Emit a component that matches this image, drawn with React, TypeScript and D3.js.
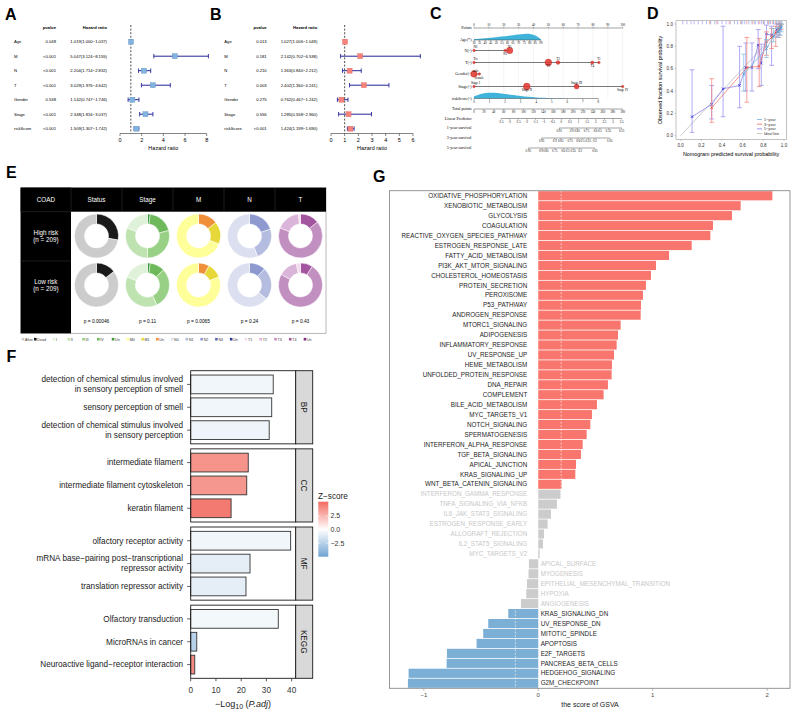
import React from "react";
import * as d3 from "d3";

const SANS = "'Liberation Sans', Arial, Helvetica, sans-serif";
const SERIF = "'Liberation Serif', 'Times New Roman', serif";

/* ---------------- A & B : forest plots ---------------- */
const forestVars = ["Age", "M", "N", "T", "Gender", "Stage", "riskScore"];
const uniPval = ["0.048", "<0.001", "<0.001", "<0.001", "0.538", "<0.001", "<0.001"];
const uniHR = [1.019, 5.047, 2.204, 3.029, 1.142, 2.348, 1.509];
const uniLow = [1.0, 3.124, 1.714, 1.976, 0.747, 1.816, 1.307];
const uniHigh = [1.037, 8.155, 2.832, 4.642, 1.746, 3.037, 1.742];
const uniTicks = [0, 2, 4, 6, 8];
const multiPval = ["0.013", "0.181", "0.210", "0.003", "0.275", "0.556", "<0.001"];
const multiHR = [1.027, 2.142, 1.363, 2.402, 0.762, 1.285, 1.424];
const multiLow = [1.006, 0.702, 0.84, 1.36, 0.467, 0.558, 1.199];
const multiHigh = [1.049, 6.538, 2.212, 4.241, 1.242, 2.96, 1.69];
const multiTicks = [0, 1, 2, 3, 4, 5, 6];

/* ---------------- C : nomogram ---------------- */
const nomoRows = ["Points", "Age(*)", "N(-)", "T(-)", "Gender(-)", "Stage(-)", "riskScore(-)", "Total points", "Linear Predictor", "1-year survival", "3-year survival", "5-year survival"];
const pointTicks = [0, 10, 20, 30, 40, 50, 60, 70, 80, 90, 100];
const ageTicks = [30, 35, 40, 45, 50, 55, 60, 65, 70, 75, 80, 85, 90];
const ageDensity = [0.14, 0.19, 0.26, 0.34, 0.43, 0.53, 0.63, 0.73, 0.83, 0.93, 0.98, 0.78, 0.12];
const ageMaxPoints = 45;
const nLevels = ["N0", "N3", "N1"];
const nPoints = [0, 21, 24];
const nSize = [1.3, 1.3, 3.2];
const nLabelSide = [-1, 1, -1];
const tLevels = ["Tis", "T3", "T2", "T4", "T1"];
const tPoints = [0, 50, 56.5, 79.5, 84];
const tSize = [1.3, 3.4, 1.9, 1.6, 1.3];
const tLabelSide = [-1, 1, -1, 1, -1];
const genderLevels = ["male", "female"];
const genderPoints = [0, 3.6];
const genderSize = [3.2, 1.3];
const genderLabelSide = [-1, 1];
const stageLevels = ["Stage I", "Stage II", "Stage III", "Stage IV"];
const stagePoints = [0, 35.5, 69, 100];
const stageSize = [1.3, 3.4, 2.5, 1.3];
const stageLabelSide = [-1, 1, -1, 1];
const riskTicks = [0, 1, 2, 3, 4, 5, 6, 7, 8];
const riskDensX = [0, 0.5, 1, 1.5, 2, 2.5, 3, 3.5, 4, 4.5, 5, 5.5, 6];
const riskDensity = [0.35, 0.88, 1.0, 0.92, 0.74, 0.56, 0.4, 0.28, 0.18, 0.1, 0.05, 0.02, 0];
const riskMaxPoints = 83.6;
const totalTicks = [0, 20, 40, 60, 80, 100, 120, 140, 160, 180, 200, 220, 240, 260, 280, 300];
const lpTicks = [-3.5, -3, -2.5, -2, -1.5, -1, -0.5, 0, 0.5, 1, 1.5, 2, 2.5, 3, 3.5];
const surv1Labels = ["0.95", "0.9", "0.85", "0.75", "0.6", "0.5", "0.35", "0.15"];
const surv1Total = [172, 197, 208, 227, 245, 254, 271, 298];
const surv3Labels = ["0.95", "0.9", "0.85", "0.75", "0.6", "0.5", "0.35", "0.2", "0.05"];
const surv3Total = [136.5, 163, 175, 194, 210, 219, 230.5, 244, 274];
const surv5Labels = ["0.95", "0.9", "0.85", "0.75", "0.6", "0.5", "0.35", "0.2", "0.05"];
const surv5Total = [109.6, 135, 145, 163, 180, 189, 200, 214, 244];

/* ---------------- D : calibration ---------------- */
const calTicks = [0, 0.2, 0.4, 0.6, 0.8, 1.0];
const cal1Pred = [0.61, 0.83, 0.9, 0.94, 0.96, 0.975];
const cal1Obs = [0.55, 0.78, 0.89, 0.93, 0.95, 0.97];
const cal1Lo = [0.4, 0.7, 0.84, 0.88, 0.9, 0.93];
const cal1Hi = [0.73, 0.86, 0.96, 0.97, 0.99, 1.0];
const cal3Pred = [0.3, 0.64, 0.76, 0.83, 0.88, 0.92, 0.95, 0.97];
const cal3Obs = [0.25, 0.61, 0.62, 0.84, 0.88, 0.92, 0.96, 0.99];
const cal3Lo = [0.12, 0.3, 0.44, 0.72, 0.78, 0.8, 0.88, 0.95];
const cal3Hi = [0.51, 0.88, 0.87, 0.93, 0.96, 0.98, 1.0, 1.0];
const cal5Pred = [0.11, 0.3, 0.41, 0.57, 0.63, 0.69, 0.75, 0.78, 0.83, 0.88, 0.93, 0.96];
const cal5Obs = [0.17, 0.28, 0.42, 0.45, 0.61, 0.61, 0.81, 0.65, 0.91, 0.9, 0.95, 0.97];
const cal5Lo = [0.03, 0.15, 0.17, 0.25, 0.4, 0.4, 0.6, 0.45, 0.8, 0.63, 0.88, 0.9];
const cal5Hi = [0.59, 0.45, 0.98, 0.8, 0.83, 0.83, 0.95, 0.82, 0.99, 0.98, 1.0, 1.0];
const rug5 = [0.02, 0.06, 0.1, 0.13, 0.17, 0.21, 0.25, 0.29, 0.33, 0.36, 0.4, 0.44, 0.48, 0.52, 0.55, 0.59, 0.62, 0.66, 0.69, 0.72, 0.75, 0.78, 0.81, 0.84, 0.87, 0.9, 0.93, 0.96];
const rug3 = [0.28, 0.35, 0.47, 0.58, 0.64, 0.7, 0.76, 0.8, 0.85, 0.89, 0.92, 0.95, 0.97];
const rug1 = [0.6, 0.72, 0.8, 0.86, 0.9, 0.93, 0.95, 0.97, 0.98];

/* ---------------- E : donut table ---------------- */
const eCols = ["Status", "Stage", "M", "N", "T"];
const eRows = [["High risk", "(n = 209)"], ["Low risk", "(n = 209)"]];
const ePvals = ["p = 0.00046", "p = 0.11", "p = 0.0065", "p = 0.24", "p = 0.43"];
const statusColors = ["#1a1a1a", "#cccccc"];
const statusHigh = [0.28, 0.72];
const statusLow = [0.145, 0.855];
const stageColors = ["#3a9a3a", "#6db95c", "#98d186", "#bfe2b1", "#e0f1da"];
const stageHigh = [0.02, 0.19, 0.29, 0.31, 0.19];
const stageLow = [0.02, 0.11, 0.3, 0.38, 0.19];
const mColors = ["#ef8f3a", "#e5d838", "#ffff99"];
const mHigh = [0.145, 0.165, 0.69];
const mLow = [0.08, 0.11, 0.81];
const nColors = ["#8d99cf", "#b4bde0", "#dcdff0"];
const nHigh = [0.2, 0.24, 0.56];
const nLow = [0.12, 0.24, 0.64];
const tColors = ["#a3559f", "#c28fc1", "#dbb4d9", "#f3dcf0"];
const tHigh = [0.14, 0.67, 0.175, 0.015];
const tLow = [0.09, 0.74, 0.14, 0.03];
const eLegendLabels = ["Alive", "Dead", "I", "II", "III", "IV", "Un", "M0", "M1", "Un", "N0", "N1", "N2", "N3", "Un", "T1", "T2", "T3", "T4", "Un"];
const eLegendColors = ["#cccccc", "#1a1a1a", "#e0f1da", "#bfe2b1", "#98d186", "#6db95c", "#3a9a3a", "#ffff99", "#e5d838", "#ef8f3a", "#dcdff0", "#b4bde0", "#8d99cf", "#5a67b5", "#2a3a9a", "#f3dcf0", "#dbb4d9", "#c28fc1", "#a3559f", "#7b2a7b"];

/* ---------------- F : GO / KEGG bars ---------------- */
const goCats = ["BP", "CC", "MF", "KEGG"];
const goTerms = [
  [["detection of chemical stimulus involved", "in sensory perception of smell"], ["sensory perception of smell"], ["detection of chemical stimulus involved", "in sensory perception"]],
  [["intermediate filament"], ["intermediate filament cytoskeleton"], ["keratin filament"]],
  [["olfactory receptor activity"], ["mRNA base\u2212pairing post\u2212transcriptional", "repressor activity"], ["translation repressor activity"]],
  [["Olfactory transduction"], ["MicroRNAs in cancer"], ["Neuroactive ligand\u2212receptor interaction"]],
];
const goValues = [[32.7, 32.1, 31.1], [22.8, 22.2, 16.0], [39.6, 23.5, 21.9], [34.7, 2.4, 1.6]];
const goZ = [[-0.5, -0.5, -0.6], [3.7, 3.6, 4.6], [-0.5, -0.9, -0.9], [-0.4, -2.5, 4.0]];
const goTicks = [0, 10, 20, 30, 40];
const zLegendTicks = [2.5, 0, -2.5];

/* ---------------- G : GSVA ---------------- */
const gTerms = ["OXIDATIVE_PHOSPHORYLATION", "XENOBIOTIC_METABOLISM", "GLYCOLYSIS", "COAGULATION", "REACTIVE_OXYGEN_SPECIES_PATHWAY", "ESTROGEN_RESPONSE_LATE", "FATTY_ACID_METABOLISM", "PI3K_AKT_MTOR_SIGNALING", "CHOLESTEROL_HOMEOSTASIS", "PROTEIN_SECRETION", "PEROXISOME", "P53_PATHWAY", "ANDROGEN_RESPONSE", "MTORC1_SIGNALING", "ADIPOGENESIS", "INFLAMMATORY_RESPONSE", "UV_RESPONSE_UP", "HEME_METABOLISM", "UNFOLDED_PROTEIN_RESPONSE", "DNA_REPAIR", "COMPLEMENT", "BILE_ACID_METABOLISM", "MYC_TARGETS_V1", "NOTCH_SIGNALING", "SPERMATOGENESIS", "INTERFERON_ALPHA_RESPONSE", "TGF_BETA_SIGNALING", "APICAL_JUNCTION", "KRAS_SIGNALING_UP", "WNT_BETA_CATENIN_SIGNALING", "INTERFERON_GAMMA_RESPONSE", "TNFA_SIGNALING_VIA_NFKB", "IL6_JAK_STAT3_SIGNALING", "ESTROGEN_RESPONSE_EARLY", "ALLOGRAFT_REJECTION", "IL2_STAT5_SIGNALING", "MYC_TARGETS_V2", "APICAL_SURFACE", "MYOGENESIS", "EPITHELIAL_MESENCHYMAL_TRANSITION", "HYPOXIA", "ANGIOGENESIS", "KRAS_SIGNALING_DN", "UV_RESPONSE_DN", "MITOTIC_SPINDLE", "APOPTOSIS", "E2F_TARGETS", "PANCREAS_BETA_CELLS", "HEDGEHOG_SIGNALING", "G2M_CHECKPOINT"];
const gScores = [2.046, 1.769, 1.693, 1.527, 1.504, 1.341, 1.143, 1.029, 0.985, 0.941, 0.915, 0.898, 0.895, 0.72, 0.697, 0.685, 0.662, 0.644, 0.641, 0.609, 0.571, 0.513, 0.469, 0.455, 0.423, 0.388, 0.373, 0.33, 0.324, 0.204, 0.195, 0.163, 0.111, 0.082, 0.05, 0.041, 0.012, -0.082, -0.085, -0.099, -0.105, -0.151, -0.262, -0.437, -0.481, -0.539, -0.798, -0.801, -1.133, -1.139];
const gTicks = [-1, 0, 1, 2];
const gThreshold = 0.2;

/* ================= components ================= */
const f3 = (v: number) => v.toFixed(3);

function Forest({ c }: { c: any }) {
  const y = d3.scalePoint<string>().domain(forestVars).range([41.7, 128.7]);
  const x = d3.scaleLinear().domain(c.domain).range(c.range);
  const axisY = 133.5;
  const [d0, d1] = c.domain;
  const fs = 4.2;
  return (
    <g>
      <text x={c.pX} y={28.5} fontSize={fs} fontWeight="bold" textAnchor="end">pvalue</text>
      <text x={c.hrX} y={28.5} fontSize={fs} fontWeight="bold" textAnchor="end">Hazard ratio</text>
      {forestVars.map((v, i) => {
        const yy = y(v)!;
        return (
          <g key={v}>
            <text x={c.labelX} y={yy + 1.5} fontSize={fs}>{v}</text>
            <text x={c.pX} y={yy + 1.5} fontSize={fs} textAnchor="end">{c.p[i]}</text>
            <text x={c.hrX} y={yy + 1.5} fontSize={fs} textAnchor="end">{`${f3(c.hr[i])}(${f3(c.lo[i])}\u2212${f3(c.hi[i])})`}</text>
          </g>
        );
      })}
      <line x1={x(1)} x2={x(1)} y1={25} y2={axisY} stroke="#222" strokeWidth={0.8} strokeDasharray="2,1.6" />
      {forestVars.map((v, i) => {
        const yy = y(v)!;
        return (
          <g key={v + "m"}>
            <line x1={x(c.lo[i])} x2={x(c.hi[i])} y1={yy} y2={yy} stroke="#24249a" strokeWidth={1} />
            <line x1={x(c.lo[i])} x2={x(c.lo[i])} y1={yy - 2.2} y2={yy + 2.2} stroke="#24249a" strokeWidth={0.9} />
            <line x1={x(c.hi[i])} x2={x(c.hi[i])} y1={yy - 2.2} y2={yy + 2.2} stroke="#24249a" strokeWidth={0.9} />
            <rect x={x(c.hr[i]) - 2.5} y={yy - 2.5} width={5} height={5} fill={c.fill} stroke={c.stroke} strokeWidth={0.4} />
          </g>
        );
      })}
      <line x1={x(d0)} x2={x(d1)} y1={axisY} y2={axisY} stroke="#333" strokeWidth={0.6} />
      {c.ticks.map((t: number) => (
        <g key={t}>
          <line x1={x(t)} x2={x(t)} y1={axisY} y2={axisY + 2.5} stroke="#333" strokeWidth={0.6} />
          <text x={x(t)} y={axisY + 8.5} fontSize={5.5} textAnchor="middle">{t}</text>
        </g>
      ))}
      <text x={(x(d0) + x(d1)) / 2} y={axisY + 16} fontSize={5.5} textAnchor="middle">Hazard ratio</text>
    </g>
  );
}

function NomoAxis({ scale, ticks, y, side, fmt }: any) {
  const r = [scale(ticks[0]), scale(ticks[ticks.length - 1])];
  return (
    <g>
      <line x1={r[0]} x2={r[1]} y1={y} y2={y} stroke="#444" strokeWidth={0.5} />
      {ticks.map((t: any, i: number) => (
        <g key={i}>
          <line x1={scale(t)} x2={scale(t)} y1={y} y2={y + side * 1.3} stroke="#444" strokeWidth={0.4} />
          <text x={scale(t)} y={side < 0 ? y - 1.8 : y + 4.3} fontSize={3.1} textAnchor="middle" fontFamily={SERIF}>{fmt ? fmt(t, i) : t}</text>
        </g>
      ))}
    </g>
  );
}

function NomoFactor({ pts, y, levels, points, sizes, sides }: any) {
  const xs = points.map((p: number) => pts(p));
  return (
    <g>
      <line x1={d3.min(xs)} x2={d3.max(xs)} y1={y} y2={y} stroke="#555" strokeWidth={0.8} />
      {levels.map((l: string, i: number) => (
        <g key={l}>
          <circle cx={xs[i]} cy={y} r={sizes[i]} fill="#e3342b" fillOpacity={0.85} stroke="#b51c14" strokeWidth={0.3} />
          <text x={xs[i] + (i === 0 ? 1.5 : 0)} y={sides[i] < 0 ? y - 2.3 : y + 4.8} fontSize={3.2} textAnchor="middle" fontFamily={SERIF}>{l}</text>
        </g>
      ))}
    </g>
  );
}

function Nomogram() {
  const pts = d3.scaleLinear().domain([0, 100]).range([474, 622.7]);
  const rowY = [28, 40, 50.5, 62.5, 74, 86.5, 98.5, 109, 118.5, 128, 138, 148];
  const age = d3.scaleLinear().domain([30, 90]).range([pts(0), pts(ageMaxPoints)]);
  const risk = d3.scaleLinear().domain([0, 8]).range([pts(0), pts(riskMaxPoints)]);
  const total = d3.scaleLinear().domain([0, 300]).range([pts(0), pts(100)]);
  const lp = d3.scaleLinear().domain([-3.5, 3.5]).range([501, 621.7]);
  const ageArea = d3.area<number>().x((_, i) => age(ageTicks[i])).y0(rowY[1]).y1((d) => rowY[1] - d * 6.5).curve(d3.curveBasis);
  const riskArea = d3.area<number>().x((_, i) => risk(riskDensX[i])).y0(rowY[6]).y1((d) => rowY[6] - d * 6).curve(d3.curveBasis);
  const survRows = [
    { labels: surv1Labels, tp: surv1Total, y: rowY[9] },
    { labels: surv3Labels, tp: surv3Total, y: rowY[10] },
    { labels: surv5Labels, tp: surv5Total, y: rowY[11] },
  ];
  return (
    <g fontFamily={SERIF}>
      {pointTicks.map((t) => (
        <line key={t} x1={pts(t)} x2={pts(t)} y1={rowY[0]} y2={rowY[6]} stroke="#e4e4e4" strokeWidth={0.4} />
      ))}
      {nomoRows.map((r, i) => (
        <text key={r} x={471.5} y={rowY[i] + 1.4} fontSize={4.1} textAnchor="end">{r}</text>
      ))}
      <NomoAxis scale={pts} ticks={pointTicks} y={rowY[0]} side={-1} />
      <path d={ageArea(ageDensity)!} fill="#3fb3d9" />
      <NomoAxis scale={age} ticks={ageTicks} y={rowY[1]} side={1} />
      <NomoFactor pts={pts} y={rowY[2]} levels={nLevels} points={nPoints} sizes={nSize} sides={nLabelSide} />
      <NomoFactor pts={pts} y={rowY[3]} levels={tLevels} points={tPoints} sizes={tSize} sides={tLabelSide} />
      <NomoFactor pts={pts} y={rowY[4]} levels={genderLevels} points={genderPoints} sizes={genderSize} sides={genderLabelSide} />
      <NomoFactor pts={pts} y={rowY[5]} levels={stageLevels} points={stagePoints} sizes={stageSize} sides={stageLabelSide} />
      <path d={riskArea(riskDensity)!} fill="#3fb3d9" />
      <NomoAxis scale={risk} ticks={riskTicks} y={rowY[6]} side={1} />
      <NomoAxis scale={total} ticks={totalTicks} y={rowY[7]} side={1} />
      <NomoAxis scale={lp} ticks={lpTicks} y={rowY[8]} side={1} />
      {survRows.map((s, k) => (
        <NomoAxis key={k} scale={(v: number) => total(s.tp[v])} ticks={s.tp.map((_, i) => i)} y={s.y} side={1} fmt={(_: any, i: number) => s.labels[i]} />
      ))}
    </g>
  );
}

function Calibration() {
  const x = d3.scaleLinear().domain([0, 1]).range([680.7, 784]);
  const y = d3.scaleLinear().domain([0, 1]).range([135.7, 24]);
  const series = [
    { name: "5\u2212year", color: "#8c86ee", mark: "#2b2bd6", pred: cal5Pred, obs: cal5Obs, lo: cal5Lo, hi: cal5Hi, rug: rug5 },
    { name: "3\u2212year", color: "#f37c72", mark: "#e04a3c", pred: cal3Pred, obs: cal3Obs, lo: cal3Lo, hi: cal3Hi, rug: rug3 },
    { name: "1\u2212year", color: "#7cbbe0", mark: "#3f8fcf", pred: cal1Pred, obs: cal1Obs, lo: cal1Lo, hi: cal1Hi, rug: rug1 },
  ];
  const line = d3.line<[number, number]>().x((d) => x(d[0])).y((d) => y(d[1]));
  const legend = [
    { name: "1\u2212year", color: "#7cbbe0" },
    { name: "3\u2212year", color: "#f37c72" },
    { name: "5\u2212year", color: "#8c86ee" },
    { name: "Ideal line", color: "#bdbdbd" },
  ];
  return (
    <g>
      <rect x={676} y={20.7} width={110.7} height={118.6} fill="none" stroke="#9a9a9a" strokeWidth={0.6} />
      <line x1={x(0)} y1={y(0)} x2={x(1)} y2={y(1)} stroke="#bdbdbd" strokeWidth={0.8} />
      {series.map((s) => (
        <g key={s.name}>
          {s.rug.map((r, i) => (
            <line key={i} x1={x(r)} x2={x(r)} y1={20.9} y2={24.3} stroke={s.color} strokeWidth={0.6} />
          ))}
          <path d={line(s.pred.map((p, i) => [p, s.obs[i]] as [number, number]))!} fill="none" stroke={s.color} strokeWidth={0.8} />
          {s.pred.map((p, i) => (
            <g key={i}>
              <line x1={x(p)} x2={x(p)} y1={y(s.lo[i])} y2={y(s.hi[i])} stroke={s.color} strokeWidth={0.7} />
              <line x1={x(p) - 2.4} x2={x(p) + 2.4} y1={y(s.lo[i])} y2={y(s.lo[i])} stroke={s.color} strokeWidth={0.7} />
              <line x1={x(p) - 2.4} x2={x(p) + 2.4} y1={y(s.hi[i])} y2={y(s.hi[i])} stroke={s.color} strokeWidth={0.7} />
              <path d={`M${x(p) - 1.2},${y(s.obs[i]) - 1.2}L${x(p) + 1.2},${y(s.obs[i]) + 1.2}M${x(p) - 1.2},${y(s.obs[i]) + 1.2}L${x(p) + 1.2},${y(s.obs[i]) - 1.2}`} stroke={s.mark} strokeWidth={0.8} />
            </g>
          ))}
        </g>
      ))}
      {calTicks.map((t) => (
        <g key={t}>
          <line x1={674.5} x2={676} y1={y(t)} y2={y(t)} stroke="#9a9a9a" strokeWidth={0.5} />
          <text x={673} y={y(t) + 1.6} fontSize={4.6} textAnchor="end" fill="#333">{t.toFixed(1)}</text>
          <line x1={x(t)} x2={x(t)} y1={139.3} y2={140.8} stroke="#9a9a9a" strokeWidth={0.5} />
          <text x={x(t)} y={147.2} fontSize={4.6} textAnchor="middle" fill="#333">{t.toFixed(1)}</text>
        </g>
      ))}
      <text x={731} y={156} fontSize={5.4} textAnchor="middle">Nomogram predicted survival probability</text>
      <text transform="translate(662,80) rotate(-90)" fontSize={5.4} textAnchor="middle">Observed fraction survival probability</text>
      {legend.map((l, i) => (
        <g key={l.name}>
          <line x1={757} x2={762} y1={119.5 + i * 4.7} y2={119.5 + i * 4.7} stroke={l.color} strokeWidth={0.9} />
          <text x={764} y={120.8 + i * 4.7} fontSize={3.8} fill="#333">{l.name}</text>
        </g>
      ))}
    </g>
  );
}

function Donut({ cx, cy, values, colors }: any) {
  const pie = d3.pie<number>().sort(null).value((d) => d);
  const arc = d3.arc<d3.PieArcDatum<number>>().innerRadius(12).outerRadius(22);
  return (
    <g transform={`translate(${cx},${cy})`}>
      {pie(values).map((a, i) => (
        <path key={i} d={arc(a)!} fill={colors[i]} stroke="#fff" strokeWidth={0.5} />
      ))}
    </g>
  );
}

function DonutTable() {
  const left = 20.7, right = 326, top = 187.7, bottom = 333.3, headB = 211.7, labW = 71;
  const col = d3.scaleBand<string>().domain(eCols).range([labW, right]);
  const rowCy = [236, 285];
  const data = [
    [statusHigh, statusLow, statusColors],
    [stageHigh, stageLow, stageColors],
    [mHigh, mLow, mColors],
    [nHigh, nLow, nColors],
    [tHigh, tLow, tColors],
  ];
  const legX = d3.scaleLinear().domain([2, 19]).range([56, 307]);
  const lx = (i: number) => (i === 0 ? 25 : i === 1 ? 37.3 : legX(i));
  return (
    <g>
      <rect x={left} y={top} width={right - left} height={bottom - top} fill="#fff" stroke="#9a9a9a" strokeWidth={0.7} />
      <rect x={left} y={top} width={right - left} height={headB - top} fill="#000" />
      <rect x={left} y={top} width={labW - left} height={bottom - top} fill="#000" />
      {eCols.slice(1).map((c) => (
        <line key={c} x1={col(c)} x2={col(c)} y1={top} y2={headB} stroke="#3a3a3a" strokeWidth={0.5} />
      ))}
      <line x1={labW} x2={labW} y1={top} y2={headB} stroke="#3a3a3a" strokeWidth={0.5} />
      <line x1={left} x2={labW} y1={headB} y2={headB} stroke="#3a3a3a" strokeWidth={0.5} />
      <line x1={left} x2={labW} y1={261} y2={261} stroke="#3a3a3a" strokeWidth={0.5} />
      <text x={(left + labW) / 2} y={202} fontSize={6.3} fill="#fff" textAnchor="middle">COAD</text>
      {eCols.map((c) => (
        <text key={c} x={col(c)! + col.bandwidth() / 2} y={202} fontSize={6.3} fill="#fff" textAnchor="middle">{c}</text>
      ))}
      {eRows.map((r, i) => (
        <g key={i}>
          <text x={(left + labW) / 2} y={rowCy[i] - 1.5} fontSize={6.3} fill="#fff" textAnchor="middle">{r[0]}</text>
          <text x={(left + labW) / 2} y={rowCy[i] + 6.3} fontSize={6.3} fill="#fff" textAnchor="middle">{r[1]}</text>
        </g>
      ))}
      {eCols.map((c, j) => (
        <g key={c}>
          <Donut cx={col(c)! + col.bandwidth() / 2} cy={rowCy[0]} values={data[j][0]} colors={data[j][2]} />
          <Donut cx={col(c)! + col.bandwidth() / 2} cy={rowCy[1]} values={data[j][1]} colors={data[j][2]} />
          <text x={col(c)! + col.bandwidth() / 2} y={322.5} fontSize={4.8} textAnchor="middle">{ePvals[j]}</text>
        </g>
      ))}
      {eLegendLabels.map((l, i) => (
        <g key={i}>
          <rect x={lx(i) - 3.3} y={337.9} width={2.6} height={2.6} fill={eLegendColors[i]} />
          <text x={lx(i)} y={340.6} fontSize={3.6} fill="#333">{l}</text>
        </g>
      ))}
    </g>
  );
}

function GoBars() {
  const x = d3.scaleLinear().domain([0, 41.6]).range([190.7, 295.7]);
  const panels = d3.scaleBand<string>().domain(goCats).range([370.7, 678.3]).paddingInner(0.064);
  const zScale = d3.scaleLinear<string>().domain([-5, 0, 5.1]).range(["#6fa3d2", "#ffffff", "#f26b61"]);
  const zLeg = d3.scaleLinear().domain([-4.95, 5.1]).range([556.7, 501.7]);
  const stops = d3.range(0, 11).map((k) => -4.95 + (k * 10.05) / 10);
  const stripX = 295.7, stripW = 17;
  const bottom = 678.3;
  return (
    <g>
      <defs>
        <linearGradient id="zgrad" x1="0" y1="1" x2="0" y2="0">
          {stops.map((s, k) => (
            <stop key={k} offset={`${k * 10}%`} stopColor={zScale(s)} />
          ))}
        </linearGradient>
      </defs>
      {goCats.map((cat, ci) => {
        const top = panels(cat)!;
        const h = panels.bandwidth();
        const ids = goTerms[ci].map((_, i) => String(i));
        const y = d3.scalePoint<string>().domain(ids).range([top, top + h]).padding(0.6);
        const bh = y.step() * 0.82;
        return (
          <g key={cat}>
            {ids.map((id, i) => {
              const yy = y(id)!;
              const lines = goTerms[ci][i];
              return (
                <g key={id}>
                  <rect x={x(0)} y={yy - bh / 2} width={x(goValues[ci][i]) - x(0)} height={bh} fill={zScale(goZ[ci][i])} stroke="#333" strokeWidth={0.9} />
                  <line x1={187.2} x2={190.7} y1={yy} y2={yy} stroke="#333" strokeWidth={0.8} />
                  <text x={183} y={yy + 2.9 - (lines.length - 1) * 5} fontSize={8.2} textAnchor="end" fill="#1a1a1a">
                    {lines.map((ln, k) => (
                      <tspan key={k} x={183} dy={k === 0 ? 0 : 10}>{ln}</tspan>
                    ))}
                  </text>
                </g>
              );
            })}
            <rect x={x(0)} y={top} width={stripX - x(0)} height={h} fill="none" stroke="#1a1a1a" strokeWidth={0.9} />
            <rect x={stripX} y={top} width={stripW} height={h} fill="#d9d9d9" stroke="#1a1a1a" strokeWidth={0.9} />
            <text transform={`translate(${stripX + stripW / 2 - 2.8},${top + h / 2}) rotate(90)`} fontSize={8.2} textAnchor="middle" fill="#1a1a1a">{cat}</text>
          </g>
        );
      })}
      {goTicks.map((t) => (
        <g key={t}>
          <line x1={x(t)} x2={x(t)} y1={bottom} y2={bottom + 3} stroke="#333" strokeWidth={0.8} />
          <text x={x(t)} y={692.7} fontSize={8.2} textAnchor="middle" fill="#333">{t}</text>
        </g>
      ))}
      <text x={243} y={706.5} fontSize={9} textAnchor="middle" fill="#1a1a1a">
        {"\u2212Log"}
        <tspan fontSize={7} dy={2.5}>10</tspan>
        <tspan dy={-2.5}>{" ("}</tspan>
        <tspan fontStyle="italic">P.adj</tspan>
        <tspan>{")"}</tspan>
      </text>
      <text x={318} y={498.5} fontSize={8.2} fill="#1a1a1a">Z{"\u2212"}score</text>
      <rect x={318.3} y={501.7} width={10} height={55} fill="url(#zgrad)" />
      {zLegendTicks.map((t) => (
        <g key={t}>
          <line x1={318.3} x2={320.3} y1={zLeg(t)} y2={zLeg(t)} stroke="#fff" strokeWidth={0.6} />
          <line x1={326.3} x2={328.3} y1={zLeg(t)} y2={zLeg(t)} stroke="#fff" strokeWidth={0.6} />
          <text x={330.5} y={zLeg(t) + 2.5} fontSize={7} fill="#333">{t === 0 ? "0.0" : t > 0 ? "2.5" : "\u22122.5"}</text>
        </g>
      ))}
    </g>
  );
}

function Gsva() {
  const x = d3.scaleLinear().domain([-1.3, 2.2]).range([389.5, 790]);
  const y = d3.scaleBand<string>().domain(gTerms).range([191.2, 687.8]).paddingInner(0.08);
  const top = 190.7, bottom = 688.3;
  const color = (v: number) => (v >= gThreshold ? "#f8766d" : v <= -gThreshold ? "#7bafd6" : "#cccccc");
  return (
    <g>
      {gTerms.map((t, i) => {
        const v = gScores[i];
        const yy = y(t)!;
        const sig = Math.abs(v) >= gThreshold;
        return (
          <g key={t}>
            <rect x={Math.min(x(0), x(v))} y={yy} width={Math.abs(x(v) - x(0))} height={y.bandwidth()} fill={color(v)} />
            <text x={v >= 0 ? x(0) - 11 : x(0) + 2.4} y={yy + y.bandwidth() / 2 + 2.2} fontSize={6.3} textAnchor={v >= 0 ? "end" : "start"} fill={sig ? "#1e1e1e" : "#c8c8c8"}>{t}</text>
          </g>
        );
      })}
      {[-gThreshold, gThreshold].map((t) => (
        <line key={t} x1={x(t)} x2={x(t)} y1={top} y2={bottom} stroke="#fff" strokeWidth={0.6} strokeDasharray="2,1.5" />
      ))}
      <rect x={389.5} y={top} width={790 - 389.5} height={bottom - top} fill="none" stroke="#8a8a8a" strokeWidth={0.9} />
      {gTicks.map((t) => (
        <g key={t}>
          <line x1={x(t)} x2={x(t)} y1={bottom} y2={bottom + 2.5} stroke="#8a8a8a" strokeWidth={0.6} />
          <text x={x(t)} y={697.3} fontSize={6} textAnchor="middle" fill="#4d4d4d">{t < 0 ? `\u2212${-t}` : t}</text>
        </g>
      ))}
      <text x={590} y={707} fontSize={7} textAnchor="middle" fill="#1a1a1a">the score of GSVA</text>
    </g>
  );
}

export default function App() {
  const letters = [
    { t: "A", x: 5, y: 20 },
    { t: "B", x: 210, y: 20 },
    { t: "C", x: 430, y: 18.5 },
    { t: "D", x: 647, y: 18.5 },
    { t: "E", x: 6, y: 178 },
    { t: "F", x: 6.5, y: 362 },
    { t: "G", x: 373, y: 182 },
  ];
  return (
    <svg width={792} height={712} viewBox="0 0 792 712" style={{ position: "absolute", left: 0, top: 0, background: "#fff" }} fontFamily={SANS}>
      <rect width={792} height={712} fill="#fff" />
      <Forest c={{ labelX: 14, pX: 56, hrX: 107, domain: [0, 8], range: [120, 206.7], ticks: uniTicks, p: uniPval, hr: uniHR, lo: uniLow, hi: uniHigh, fill: "#82b4df", stroke: "#5d8fc4" }} />
      <Forest c={{ labelX: 224.3, pX: 266.7, hrX: 317.3, domain: [0, 6], range: [331, 413], ticks: multiTicks, p: multiPval, hr: multiHR, lo: multiLow, hi: multiHigh, fill: "#f4847b", stroke: "#e0665d" }} />
      <Nomogram />
      <Calibration />
      <DonutTable />
      <GoBars />
      <Gsva />
      {letters.map((l) => (
        <text key={l.t} x={l.x} y={l.y} fontSize={16} fontWeight="bold" fill="#000">{l.t}</text>
      ))}
    </svg>
  );
}
